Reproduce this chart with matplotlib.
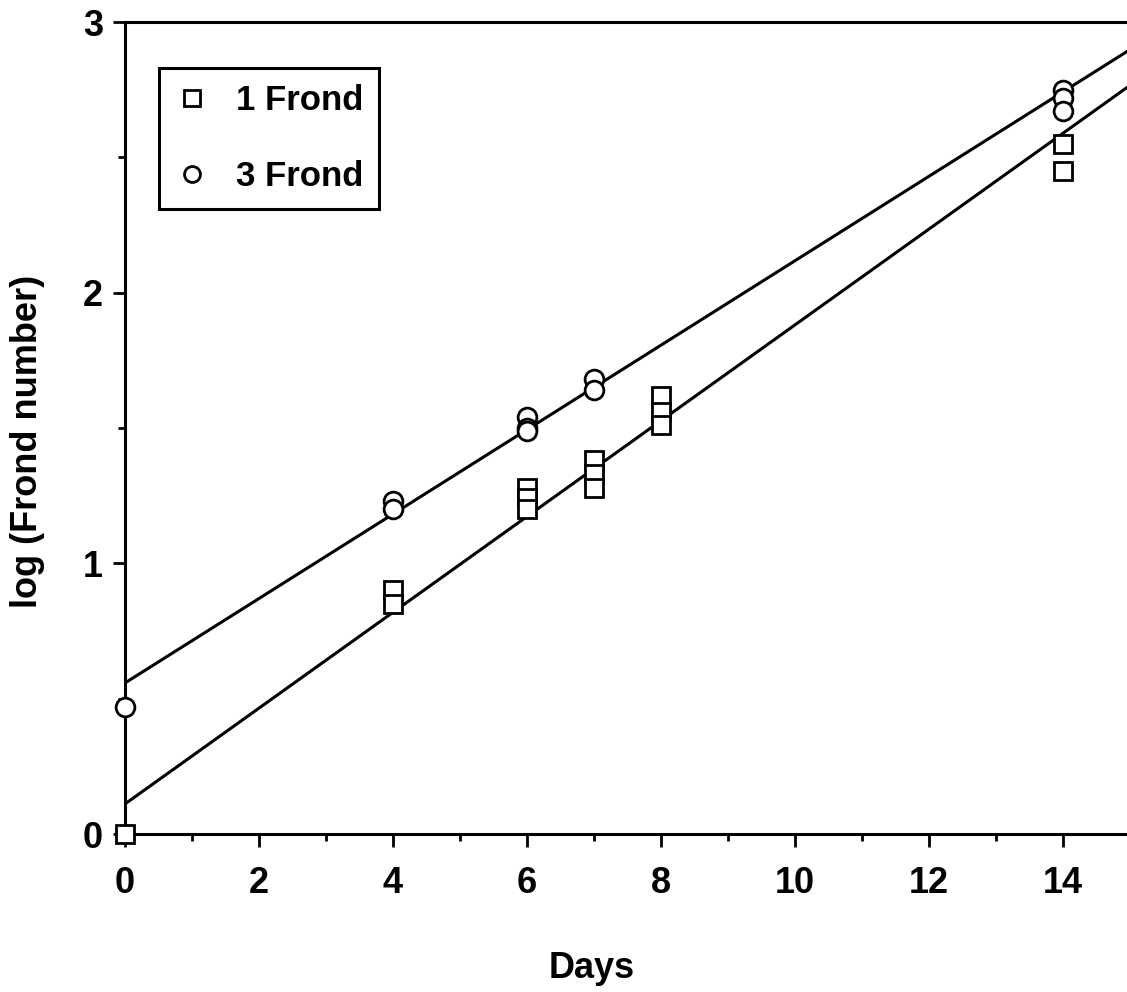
import numpy as np
import matplotlib
matplotlib.use("Agg")
import matplotlib.pyplot as plt
from matplotlib.ticker import MultipleLocator

plt.rcParams['font.family'] = ['Liberation Sans', 'DejaVu Sans']
plt.rcParams['font.weight'] = 'bold'

# log frond counts, single-frond inoculum
days_1 = [0, 4, 4, 6, 6, 6, 7, 7, 7, 8, 8, 8, 14, 14]
logn_1 = [0.0, 0.90, 0.85, 1.28, 1.24, 1.20, 1.38, 1.33, 1.28, 1.62, 1.56, 1.51, 2.55, 2.45]

# log frond counts, three-frond inoculum
days_3 = [0, 4, 4, 6, 6, 6, 7, 7, 14, 14, 14]
logn_3 = [0.47, 1.23, 1.20, 1.54, 1.50, 1.49, 1.68, 1.64, 2.75, 2.72, 2.67]

# regression lines (intercept, slope)
fit_1 = (0.111, 0.177)
fit_3 = (0.558, 0.156)

fig = plt.figure(figsize=(11.27, 9.92), dpi=100)
ax = fig.add_axes([125 / 1127, 158 / 992, 1005 / 1127, 812 / 992])

xx = np.array([0, 15])
ax.plot(xx, fit_3[0] + fit_3[1] * xx, color='black', lw=2.2)
ax.plot(xx, fit_1[0] + fit_1[1] * xx, color='black', lw=2.2)

ax.plot(days_1, logn_1, 's', ms=13.5, mfc='white', mec='black', mew=2,
        clip_on=False, zorder=5, label='1 Frond')
ax.plot(days_3, logn_3, 'o', ms=13.5, mfc='white', mec='black', mew=2,
        clip_on=False, zorder=5, label='3 Frond')

ax.set_xlim(0, 15)
ax.set_ylim(0, 3)
ax.xaxis.set_major_locator(MultipleLocator(2))
ax.xaxis.set_minor_locator(MultipleLocator(1))
ax.yaxis.set_major_locator(MultipleLocator(1))
ax.yaxis.set_minor_locator(MultipleLocator(0.5))

for s in ax.spines.values():
    s.set_linewidth(2.2)
ax.spines['right'].set_visible(False)

ax.tick_params(which='major', length=9, width=2, labelsize=26, direction='out')
ax.tick_params(which='minor', length=5, width=2, direction='out')
ax.tick_params(axis='x', which='major', pad=14)
ax.tick_params(axis='y', which='major', pad=7)
ax.tick_params(top=False, right=False, which='both')

fig.text(592 / 1127, 1 - 968 / 992, 'Days', fontsize=26, fontweight='bold',
         ha='center', va='center')
fig.text(28 / 1127, 1 - 441 / 992, 'log (Frond number)', fontsize=26,
         fontweight='bold', rotation=90, ha='center', va='center')

leg = ax.legend(loc='upper left', bbox_to_anchor=(0.034, 0.943), fontsize=25,
                frameon=True, fancybox=False, edgecolor='black', framealpha=1,
                handletextpad=0.75, labelspacing=1.25, borderpad=0.45,
                borderaxespad=0, handlelength=1.0, numpoints=1,
                markerscale=0.85)
leg.get_frame().set_linewidth(2.2)

fig.savefig('out.png', dpi=100)
